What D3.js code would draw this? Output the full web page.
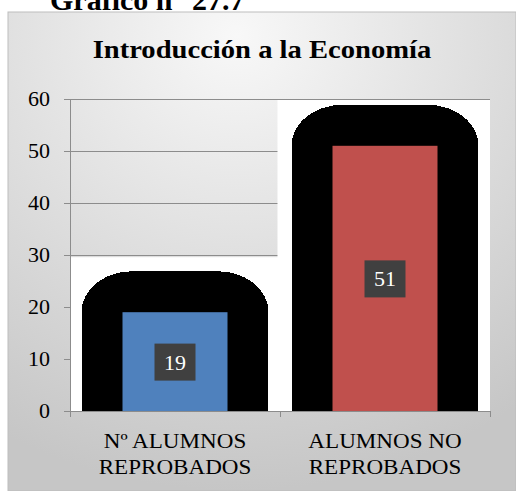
<!DOCTYPE html>
<html>
  <head>
    <style>
      html,
      body { margin: 0; background: #fff; }
      svg { display: block; }
    </style>
    <script src="https://d3js.org/d3.v7.js"></script>
  </head>
  <body>
    <svg class="chart"></svg>

    <script>
      const width = 516;
      const height = 491;
      const serif = "'Liberation Serif', 'Times New Roman', 'DejaVu Serif', serif";

      // data
      const categories = ['Nº ALUMNOS REPROBADOS', 'ALUMNOS NO REPROBADOS'];
      const categoryLines = [['Nº ALUMNOS', 'REPROBADOS'], ['ALUMNOS NO', 'REPROBADOS']];
      const values = [19, 51];
      const barColors = ['#4f81bd', '#c0504d'];
      const yTicks = [0, 10, 20, 30, 40, 50, 60];

      const plot = { left: 70, right: 490, top: 99, bottom: 411 };

      const svg = d3.select('svg')
        .attr('width', width)
        .attr('height', height)
        .attr('font-family', serif);

      // frame background
      const defs = svg.append('defs');
      const grad = defs.append('radialGradient')
        .attr('id', 'bg')
        .attr('cx', '45%').attr('cy', '5%').attr('r', '95%');
      grad.append('stop').attr('offset', '0%').attr('stop-color', '#f8f8f8');
      grad.append('stop').attr('offset', '100%').attr('stop-color', '#c6c6c6');

      svg.append('text')
        .attr('x', 50)
        .attr('y', 10)
        .attr('font-family', serif)
        .style('font-size', '30px')
        .style('font-weight', 'bold')
        .text('Gráfico n° 27.7');

      svg.append('rect')
        .attr('x', 8).attr('y', 12)
        .attr('width', width - 8).attr('height', height - 12)
        .attr('fill', 'url(#bg)')
        .attr('stroke', '#bdbdbd');

      svg.append('text')
        .attr('x', 262)
        .attr('y', 58)
        .attr('text-anchor', 'middle')
        .attr('font-family', serif)
        .style('font-size', '26px')
        .style('font-weight', 'bold')
        .attr('transform', 'translate(262,0) scale(1.1,1) translate(-262,0)')
        .text('Introducción a la Economía');

      const x = d3.scaleBand()
        .domain(categories)
        .range([plot.left, plot.right])
        .paddingInner(0.5)
        .paddingOuter(0.25);

      const y = d3.scaleLinear()
        .domain([0, 60])
        .range([plot.bottom, plot.top]);

      const bw = x.bandwidth();
      const ext = bw * 0.39;
      const rise = 41;

      // gridlines
      svg.append('g')
        .selectAll('line')
        .data(yTicks.slice(1))
        .join('line')
        .attr('x1', plot.left).attr('x2', plot.right)
        .attr('y1', (d) => y(d) + 0.5).attr('y2', (d) => y(d) + 0.5)
        .attr('stroke', '#8c8c8c');

      const bars = categories.map((c, i) => ({ c, v: values[i], color: barColors[i] }));

      // white patches behind each bar
      const padL = (d) => Math.max(plot.left, x(d.c) - 55);
      const padR = (d) => Math.min(plot.right, x(d.c) + bw + 55);
      const padT = (d) => Math.max(plot.top + 1, y(d.v) - rise - 14);

      svg.append('g')
        .selectAll('rect')
        .data(bars)
        .join('rect')
        .attr('x', padL)
        .attr('y', padT)
        .attr('width', (d) => padR(d) - padL(d))
        .attr('height', (d) => plot.bottom - padT(d))
        .attr('fill', '#fff');

      // black glow blobs
      const blob = (d) => {
        const x0 = x(d.c) - ext;
        const x1 = x(d.c) + bw + ext;
        const yb = plot.bottom + 1;
        const yt = y(d.v) - rise;
        const shoulder = y(d.v);
        const rx = 51;
        return `M${x0},${yb} L${x0},${shoulder} A${rx},${shoulder - yt} 0 0 1 ${x0 + rx},${yt}` +
          ` L${x1 - rx},${yt} A${rx},${shoulder - yt} 0 0 1 ${x1},${shoulder} L${x1},${yb} Z`;
      };

      svg.append('g')
        .selectAll('path')
        .data(bars)
        .join('path')
        .attr('d', blob)
        .attr('fill', '#000')
        .attr('shape-rendering', 'crispEdges');

      svg.append('g')
        .selectAll('rect')
        .data(bars)
        .join('rect')
        .attr('x', (d) => x(d.c))
        .attr('y', (d) => y(d.v))
        .attr('width', bw)
        .attr('height', (d) => plot.bottom - y(d.v))
        .attr('fill', (d) => d.color);

      // value labels
      const lab = svg.append('g')
        .selectAll('g')
        .data(bars)
        .join('g')
        .attr('transform', (d) => `translate(${x(d.c) + bw / 2},${(y(d.v) + plot.bottom) / 2})`);

      lab.append('rect')
        .attr('x', -20.5).attr('y', -18)
        .attr('width', 41).attr('height', 37)
        .attr('fill', '#404040');

      lab.append('text')
        .attr('text-anchor', 'middle')
        .attr('y', 8)
        .attr('fill', '#fff')
        .attr('font-family', serif)
        .style('font-size', '22px')
        .text((d) => d.v);

      // axes
      const axisColor = '#8c8c8c';
      svg.append('line')
        .attr('x1', plot.left + 0.5).attr('x2', plot.left + 0.5)
        .attr('y1', plot.top).attr('y2', plot.bottom + 6)
        .attr('stroke', axisColor);

      svg.append('line')
        .attr('x1', plot.left - 6).attr('x2', plot.right)
        .attr('y1', plot.bottom + 0.5).attr('y2', plot.bottom + 0.5)
        .attr('stroke', axisColor);

      svg.append('g')
        .selectAll('line')
        .data(yTicks)
        .join('line')
        .attr('x1', plot.left - 6).attr('x2', plot.left)
        .attr('y1', (d) => y(d) + 0.5).attr('y2', (d) => y(d) + 0.5)
        .attr('stroke', axisColor);

      svg.append('g')
        .selectAll('line')
        .data([0, 1, 2])
        .join('line')
        .attr('x1', (d) => plot.left + d * x.step() + 0.5)
        .attr('x2', (d) => plot.left + d * x.step() + 0.5)
        .attr('y1', plot.bottom).attr('y2', plot.bottom + 6)
        .attr('stroke', axisColor);

      svg.append('g')
        .selectAll('text')
        .data(yTicks)
        .join('text')
        .attr('x', 50)
        .attr('y', (d) => y(d) + 7)
        .attr('text-anchor', 'end')
        .attr('font-family', serif)
        .style('font-size', '22px')
        .text((d) => d);

      const cat = svg.append('g')
        .selectAll('text')
        .data(categories)
        .join('text')
        .attr('text-anchor', 'middle')
        .attr('font-family', serif)
        .style('font-size', '22px')
        .attr('transform', (d) => `translate(${x(d) + bw / 2},0) scale(1.05,1)`);

      cat.selectAll('tspan')
        .data((d, i) => categoryLines[i])
        .join('tspan')
        .attr('x', 0)
        .attr('y', (d, j) => 448 + j * 26)
        .text((d) => d);
    </script>
  </body>
</html>
